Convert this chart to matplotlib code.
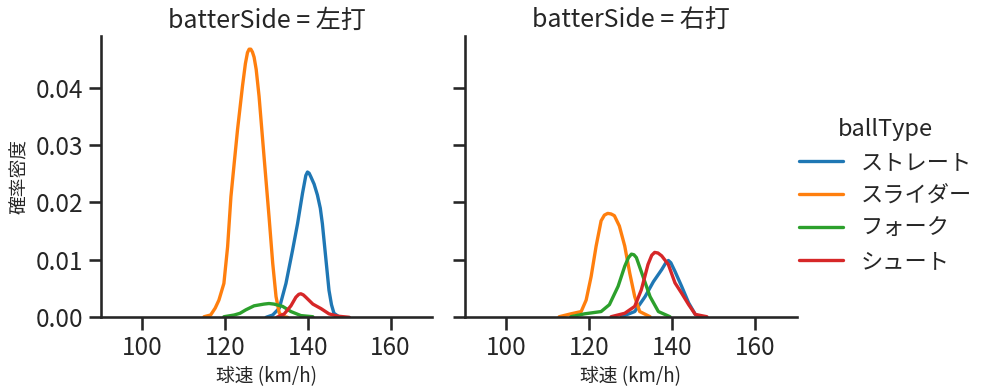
import matplotlib
matplotlib.use("Agg")
import matplotlib.pyplot as plt
import seaborn as sns

sns.set_theme(context="talk", style="ticks")
plt.rcParams["font.family"] = ["Noto Sans CJK JP", "DejaVu Sans"]

ball_types = ["ストレート", "スライダー", "フォーク", "シュート"]
colors = ["#1f77b4", "#ff7f0e", "#2ca02c", "#d62728"]
sides = ["左打", "右打"]

# densities (speed km/h, density)
left_straight_x = [129.9, 131.5, 133.1, 134.7, 136.3, 137.5, 138.7, 139.5, 139.9, 140.3, 140.7, 141.5, 142.3, 143.0, 143.5, 144.3, 145.1, 145.7, 146.3, 147.5]
left_straight_y = [0.0, 0.0004, 0.0016, 0.0059, 0.0117, 0.0163, 0.0216, 0.0247, 0.0253, 0.0251, 0.0245, 0.0232, 0.0213, 0.019, 0.0163, 0.0105, 0.0047, 0.0022, 0.0007, 0.0001]
left_slider_x = [114.9, 116.5, 117.6, 118.5, 119.7, 120.6, 121.4, 122.2, 123.0, 124.2, 124.9, 125.4, 125.8, 126.2, 126.6, 127.0, 127.5, 128.2, 129.4, 130.6, 131.5, 132.3, 133.1, 134.3, 135.1]
left_slider_y = [0.0001, 0.0004, 0.0016, 0.003, 0.0059, 0.0123, 0.021, 0.0269, 0.0327, 0.0403, 0.0442, 0.0461, 0.0467, 0.0467, 0.0462, 0.0453, 0.0432, 0.0385, 0.028, 0.0176, 0.0094, 0.0036, 0.0007, 0.0001, 0.0]
left_fork_x = [119.7, 122.2, 123.6, 125.0, 127.0, 129.4, 130.6, 131.8, 133.9, 135.9, 138.3, 141.2]
left_fork_y = [0.0001, 0.0004, 0.0007, 0.0013, 0.002, 0.0023, 0.0024, 0.0023, 0.0019, 0.001, 0.0003, 0.0001]
left_shoot_x = [132.5, 134.3, 135.9, 137.1, 137.8, 138.3, 138.9, 139.5, 141.2, 143.2, 145.1, 147.2, 150.0]
left_shoot_y = [0.0, 0.0006, 0.002, 0.0035, 0.004, 0.0041, 0.0039, 0.0035, 0.0023, 0.0015, 0.0006, 0.0002, 0.0]

right_straight_x = [127.7, 130.9, 133.4, 135.4, 137.4, 138.4, 139.0, 139.6, 140.6, 142.2, 143.9, 145.5, 147.1]
right_straight_y = [0.0001, 0.001, 0.0036, 0.0062, 0.0083, 0.0095, 0.0099, 0.0095, 0.008, 0.0054, 0.0025, 0.0005, 0.0]
right_slider_x = [112.7, 115.5, 118.0, 119.2, 120.4, 121.6, 122.8, 123.6, 124.4, 125.2, 126.0, 127.2, 128.5, 129.7, 130.9, 132.1, 134.6]
right_slider_y = [0.0001, 0.0006, 0.001, 0.003, 0.0071, 0.0124, 0.0168, 0.0178, 0.0181, 0.018, 0.0177, 0.0159, 0.0124, 0.0077, 0.0036, 0.001, 0.0001]
right_fork_x = [115.5, 118.8, 122.8, 124.8, 126.9, 128.5, 129.4, 130.1, 130.7, 131.3, 132.9, 134.6, 136.6, 139.4]
right_fork_y = [0.0001, 0.0006, 0.001, 0.0022, 0.0054, 0.0089, 0.0104, 0.011, 0.0109, 0.0104, 0.0071, 0.0036, 0.001, 0.0001]
right_shoot_x = [125.2, 128.5, 130.9, 132.5, 134.1, 135.0, 135.7, 136.5, 137.4, 139.0, 140.6, 142.2, 143.9, 145.5, 148.3]
right_shoot_y = [0.0001, 0.0007, 0.0019, 0.0048, 0.0092, 0.0108, 0.0113, 0.0112, 0.0107, 0.0092, 0.006, 0.0042, 0.0022, 0.0005, 0.0001]

curves = {
    "左打": [(left_straight_x, left_straight_y), (left_slider_x, left_slider_y),
             (left_fork_x, left_fork_y), (left_shoot_x, left_shoot_y)],
    "右打": [(right_straight_x, right_straight_y), (right_slider_x, right_slider_y),
             (right_fork_x, right_fork_y), (right_shoot_x, right_shoot_y)],
}

fig = plt.figure(figsize=(9.95, 3.91), dpi=100)
ax1 = fig.add_axes([0.1015, 0.1885, 0.3327, 0.7195])
ax2 = fig.add_axes([0.4673, 0.1885, 0.3337, 0.7195], sharey=ax1)

handles = []
for ax, side in zip([ax1, ax2], sides):
    for (xs, ys), name, c in zip(curves[side], ball_types, colors):
        h, = ax.plot(xs, ys, color=c, lw=2.4, label=name, solid_joinstyle="round")
        if side == "左打":
            handles.append(h)
    ax.set_xlim(90, 170)
    ax.set_ylim(0, 0.049)
    ax.set_xticks([100, 120, 140, 160])
    ax.set_title(f"batterSide = {side}", fontsize=18)
    ax.set_xlabel("球速 (km/h)", fontsize=13.5)
    ax.tick_params(labelsize=17.5)

ax1.set_yticks([0, 0.01, 0.02, 0.03, 0.04])
ax1.set_ylabel("確率密度", fontsize=13.5)
ax2.tick_params(labelleft=False)
sns.despine(fig)

fig.legend(handles=handles, title="ballType", loc="center left",
           bbox_to_anchor=(0.787, 0.5), frameon=False, fontsize=16,
           title_fontsize=17, labelspacing=0.45, handlelength=2.0,
           borderaxespad=0.3)

fig.savefig("out.png", dpi=100)
